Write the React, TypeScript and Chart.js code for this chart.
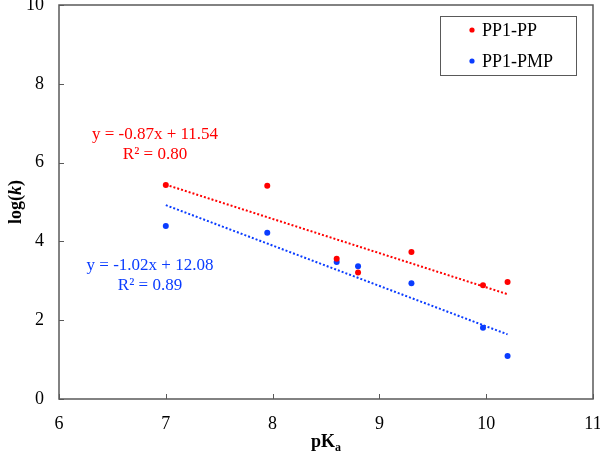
import React, { useEffect, useRef } from 'react';
import { Chart, registerables } from 'chart.js';

Chart.register(...registerables);

// pKa of each compound (x) and log(k) for the two polymers
const pKa = [7.0, 7.95, 8.6, 8.8, 9.3, 9.97, 10.2];
const ppLogK = [5.43, 5.41, 3.56, 3.21, 3.73, 2.89, 2.97];
const pmpLogK = [4.39, 4.22, 3.48, 3.37, 2.94, 1.81, 1.09];

// linear trend lines, ends
const trendX = [7.0, 10.2];
const ppTrend = [5.44, 2.66];
const pmpTrend = [4.92, 1.64];

const seriesNames = ['PP1-PP', 'PP1-PMP'];
const equations = [
    ['y = -0.87x + 11.54', 'R² = 0.80'],
    ['y = -1.02x + 12.08', 'R² = 0.89'],
];

const RED = '#ff0000';
const BLUE = '#0a3cff';
const AXIS = '#595959';
const FONT = "'Liberation Serif', 'Times New Roman', serif";

const decorPlugin = {
    id: 'decor',
    afterDraw(chart: any) {
        const { ctx, chartArea: a, scales } = chart;
        const xs = scales.x;
        const ys = scales.y;
        ctx.save();

        // frame
        ctx.strokeStyle = AXIS;
        ctx.lineWidth = 1.5;
        ctx.strokeRect(a.left, a.top, a.right - a.left, a.bottom - a.top);

        // inside tick marks
        ctx.lineWidth = 1;
        ctx.beginPath();
        xs.ticks.forEach((t: any) => {
            const px = Math.round(xs.getPixelForValue(t.value)) + 0.5;
            ctx.moveTo(px, a.bottom);
            ctx.lineTo(px, a.bottom - 5);
        });
        ys.ticks.forEach((t: any) => {
            const py = Math.round(ys.getPixelForValue(t.value)) + 0.5;
            ctx.moveTo(a.left, py);
            ctx.lineTo(a.left + 5, py);
        });
        ctx.stroke();

        // y title: log(k)
        ctx.fillStyle = '#000';
        ctx.textBaseline = 'middle';
        ctx.save();
        ctx.translate(16, (a.top + a.bottom) / 2);
        ctx.rotate(-Math.PI / 2);
        const parts = [
            { t: 'log(', f: `bold 18px ${FONT}` },
            { t: 'k', f: `italic bold 18px ${FONT}` },
            { t: ')', f: `bold 18px ${FONT}` },
        ];
        let total = 0;
        parts.forEach((p) => { ctx.font = p.f; total += ctx.measureText(p.t).width; });
        let cx = -total / 2;
        ctx.textAlign = 'left';
        parts.forEach((p) => {
            ctx.font = p.f;
            ctx.fillText(p.t, cx, 0);
            cx += ctx.measureText(p.t).width;
        });
        ctx.restore();

        // x title: pKa
        ctx.textBaseline = 'alphabetic';
        ctx.textAlign = 'left';
        ctx.font = `bold 18px ${FONT}`;
        const wMain = ctx.measureText('pK').width;
        ctx.font = `bold 12px ${FONT}`;
        const wSub = ctx.measureText('a').width;
        const tx = (a.left + a.right) / 2 - (wMain + wSub) / 2;
        ctx.font = `bold 18px ${FONT}`;
        ctx.fillText('pK', tx, 447);
        ctx.font = `bold 12px ${FONT}`;
        ctx.fillText('a', tx + wMain, 451);

        // trend equations
        ctx.font = `17px ${FONT}`;
        ctx.textAlign = 'center';
        ctx.textBaseline = 'middle';
        ctx.fillStyle = RED;
        ctx.fillText(equations[0][0], 155, 135);
        ctx.fillText(equations[0][1], 155, 155);
        ctx.fillStyle = BLUE;
        ctx.fillText(equations[1][0], 150, 266);
        ctx.fillText(equations[1][1], 150, 286);

        // legend
        ctx.strokeStyle = AXIS;
        ctx.lineWidth = 1;
        ctx.strokeRect(440.5, 16.5, 136, 59);
        ctx.font = `18px ${FONT}`;
        ctx.textAlign = 'left';
        [RED, BLUE].forEach((c, i) => {
            const ly = 30 + i * 31;
            ctx.fillStyle = c;
            ctx.beginPath();
            ctx.arc(472, ly, 2.6, 0, Math.PI * 2);
            ctx.fill();
            ctx.fillStyle = '#000';
            ctx.fillText(seriesNames[i], 482, ly + 1);
        });

        ctx.restore();
    },
};

const App: React.FC = () => {
    const chartRef = useRef<HTMLCanvasElement>(null);
    const chartInstance = useRef<Chart | null>(null);

    useEffect(() => {
        document.body.style.margin = '0';
        if (!chartRef.current) return;
        if (chartInstance.current) chartInstance.current.destroy();

        const pts = (ys: number[]) => pKa.map((x, i) => ({ x, y: ys[i] }));
        const line = (ys: number[]) => trendX.map((x, i) => ({ x, y: ys[i] }));

        chartInstance.current = new Chart(chartRef.current, {
            type: 'scatter',
            data: {
                datasets: [
                    {
                        label: seriesNames[0],
                        data: pts(ppLogK),
                        backgroundColor: RED,
                        borderColor: RED,
                        pointRadius: 3,
                        borderWidth: 0,
                    },
                    {
                        label: seriesNames[1],
                        data: pts(pmpLogK),
                        backgroundColor: BLUE,
                        borderColor: BLUE,
                        pointRadius: 3,
                        borderWidth: 0,
                    },
                    {
                        label: 'PP trend',
                        data: line(ppTrend),
                        showLine: true,
                        borderColor: RED,
                        borderWidth: 2,
                        borderDash: [2, 2],
                        pointRadius: 0,
                    },
                    {
                        label: 'PMP trend',
                        data: line(pmpTrend),
                        showLine: true,
                        borderColor: BLUE,
                        borderWidth: 2,
                        borderDash: [2, 2],
                        pointRadius: 0,
                    },
                ],
            },
            options: {
                responsive: false,
                animation: false,
                layout: { padding: { top: 5, right: 7, left: 0, bottom: 0 } },
                plugins: {
                    legend: { display: false },
                    tooltip: { enabled: false },
                },
                scales: {
                    x: {
                        type: 'linear',
                        min: 6,
                        max: 11,
                        grid: { display: false, drawTicks: false },
                        border: { display: false },
                        ticks: {
                            stepSize: 1,
                            padding: 14,
                            color: '#000',
                            font: { size: 18, family: FONT },
                        },
                        afterFit: (s: any) => {
                            s.height = 56;
                            s.paddingLeft = 0;
                            s.paddingRight = 0;
                        },
                    },
                    y: {
                        type: 'linear',
                        min: 0,
                        max: 10,
                        grid: { display: false, drawTicks: false },
                        border: { display: false },
                        ticks: {
                            stepSize: 2,
                            padding: 15,
                            color: '#000',
                            font: { size: 18, family: FONT },
                        },
                        afterFit: (s: any) => {
                            s.width = 59;
                            s.paddingTop = 0;
                            s.paddingBottom = 0;
                        },
                    },
                },
            },
            plugins: [decorPlugin],
        });

        return () => {
            if (chartInstance.current) {
                chartInstance.current.destroy();
                chartInstance.current = null;
            }
        };
    }, []);

    return <canvas ref={chartRef} width={600} height={455} style={{ display: 'block' }} />;
};

export default App;
